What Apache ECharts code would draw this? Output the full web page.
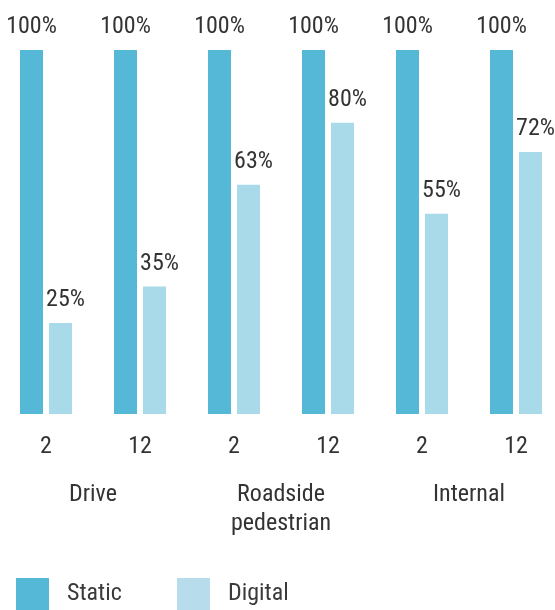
<!DOCTYPE html>
<html>
<head>
<meta charset="utf-8">
<script src="https://cdn.jsdelivr.net/npm/echarts@6/dist/echarts.min.js"></script>
<style>
  html, body { margin: 0; padding: 0; background: #fff; }
  #chart { width: 555px; height: 610px; }
</style>
</head>
<body>
<div id="chart"></div>
<script>
// Sub-categories (weeks) and their parent groups
const subCategories = ['2', '12', '2', '12', '2', '12'];
const groups = ['Drive', 'Roadside\npedestrian', 'Internal'];

// Recall index, percent
const staticValues = [100, 100, 100, 100, 100, 100];
const digitalValues = [25, 35, 63, 80, 55, 72];

const FONT = '"Roboto Condensed", "Liberation Sans Narrow", Roboto, sans-serif';
const TEXT = '#333333';
const STATIC_COLOR = '#55b8d7';
const DIGITAL_COLOR = '#a9daea';
const DIGITAL_KEY_COLOR = '#b7dcec';

const chart = echarts.init(document.getElementById('chart'), null, { renderer: 'canvas' });

const labelStyle = {
  show: true,
  position: 'top',
  distance: 11,
  fontFamily: FONT,
  fontSize: 24,
  color: TEXT,
  formatter: p => p.value + '%'
};

chart.setOption({
  animation: false,
  textStyle: { fontFamily: FONT },
  grid: { left: -1, width: 564, top: 50, bottom: 196, containLabel: false, outerBoundsMode: 'none' },
  xAxis: [
    {
      type: 'category',
      data: subCategories,
      axisLine: { show: false },
      axisTick: { show: false },
      axisLabel: { margin: 21, fontFamily: FONT, fontSize: 24, color: TEXT }
    },
    {
      type: 'category',
      data: groups,
      position: 'bottom',
      axisLine: { show: false },
      axisTick: { show: false },
      axisLabel: { margin: 66, fontFamily: FONT, fontSize: 24, lineHeight: 29, color: TEXT, verticalAlign: 'top' }
    }
  ],
  yAxis: { type: 'value', min: 0, max: 100, show: false },
  legend: [
    {
      left: 16, top: 578, padding: 0,
      itemWidth: 33, itemHeight: 32, icon: 'rect',
      data: ['Static'],
      textStyle: { fontFamily: FONT, fontSize: 24, color: '#3a3a3a', padding: [0, 0, 0, 13] }
    },
    {
      left: 177, top: 578, padding: 0,
      itemWidth: 33, itemHeight: 32, icon: 'rect',
      data: [{ name: 'Digital', itemStyle: { color: DIGITAL_KEY_COLOR } }],
      textStyle: { fontFamily: FONT, fontSize: 24, color: '#3a3a3a', padding: [0, 0, 0, 13] }
    }
  ],
  series: [
    {
      name: 'Static', type: 'bar', data: staticValues,
      barWidth: 23, barGap: '26%',
      itemStyle: { color: STATIC_COLOR },
      label: labelStyle
    },
    {
      name: 'Digital', type: 'bar', data: digitalValues,
      barWidth: 23,
      itemStyle: { color: DIGITAL_COLOR },
      label: Object.assign({}, labelStyle, { offset: [5, 0] })
    }
  ]
});
</script>
</body>
</html>
